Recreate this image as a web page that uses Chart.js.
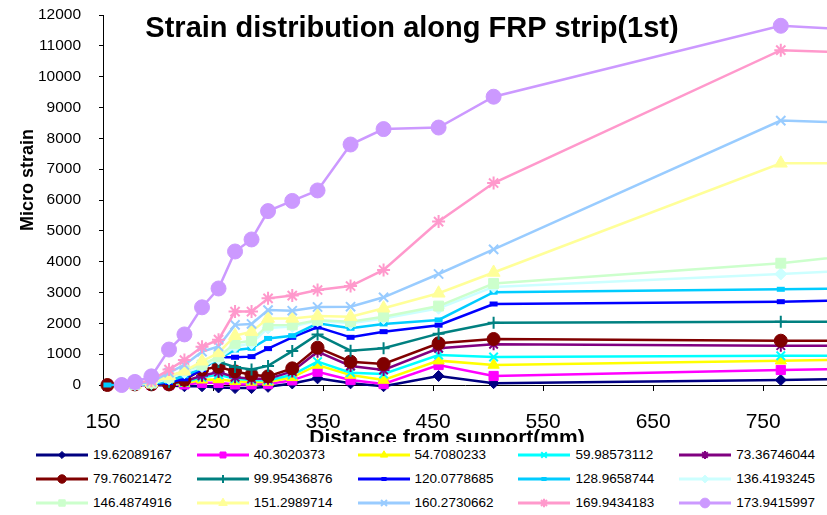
<!DOCTYPE html>
<html>
<head>
<meta charset="utf-8">
<title>Strain distribution along FRP strip(1st)</title>
<script src="https://cdn.jsdelivr.net/npm/chart.js"></script>
<style>
  body { margin: 0; background: #fff; }
  #wrap { position: relative; width: 827px; height: 515px; overflow: hidden; }
  #strainChart { position: absolute; left: 0; top: 0; }
  #legend { position: absolute; left: 0; top: 442px; width: 827px; height: 73px; background: #fff;
            font-family: 'Liberation Sans', Arial, sans-serif; font-size: 13.5px; color: #000; }
  .item { position: absolute; height: 16px; line-height: 16px; white-space: nowrap; }
  .item canvas { position: absolute; left: 0; top: 0; }
  .item span { position: absolute; left: 57px; top: 0; }
</style>
</head>
<body>
<div id="wrap">
  <canvas id="strainChart" width="827" height="515"></canvas>
  <div id="legend"></div>
</div>
<script>
// distance from support (mm) - last point lies past the right edge of the plot
const xDistance = [154, 167, 179, 194, 210, 224, 240, 255, 270, 285, 300, 322, 345, 375, 405, 455, 505, 766, 850];
const xTicks = [150, 250, 350, 450, 550, 650, 750];

// micro strain, one array per load step
const s19 = [0, 0, 0, 0, -20, -40, -40, -80, -100, -100, -60, 50, 216, 54, -40, 292, 60, 162, 205];
const s40 = [0, 0, 0, 0, 0, 20, 70, 70, 20, 20, 30, 150, 432, 162, 32, 649, 292, 487, 530];
const s54 = [0, 0, 0, 10, 20, 60, 170, 180, 120, 100, 100, 250, 649, 324, 162, 790, 650, 789, 832];
const s59 = [0, 0, 0, 10, 30, 90, 250, 330, 200, 160, 150, 330, 757, 400, 357, 973, 910, 951, 951];
const s73 = [0, 0, 0, 20, 40, 120, 300, 420, 250, 200, 200, 440, 1080, 616, 487, 1190, 1320, 1276, 1276];
const s79 = [0, 10, 20, 20, 20, 170, 500, 590, 440, 330, 280, 540, 1210, 757, 681, 1352, 1492, 1437, 1437];
const s99 = [null, 0, 0, 20, 100, 350, 700, 750, 580, 500, 620, 1100, 1640, 1114, 1190, 1665, 2021, 2054, 2054];
const s120 = [null, 0, 0, 20, 80, 200, 500, 900, 900, 920, 1180, 1546, 1880, 1546, 1730, 1940, 2627, 2702, 2767];
const s128 = [0, 0, 0, 30, 120, 300, 550, 850, 1135, 1190, 1510, 1600, 2000, 1840, 1980, 2110, 3010, 3104, 3140];
const s136 = [null, 0, 10, 50, 200, 400, 600, 850, 1250, 1350, 1850, 1900, 2080, 2000, 2160, 2490, 3180, 3600, 3750];
const s146 = [null, 0, 10, 60, 250, 480, 650, 920, 1350, 1440, 1940, 1950, 2100, 2054, 2215, 2560, 3290, 3950, 4265];
const s151 = [null, 0, 20, 80, 300, 450, 770, 1040, 1600, 1730, 2160, 2160, 2240, 2215, 2490, 2975, 3650, 7190, 7190];
const s160 = [null, 0, 30, 100, 400, 650, 1080, 1250, 1950, 1980, 2430, 2410, 2530, 2540, 2845, 3600, 4400, 8575, 8490];
const s169 = [null, 0, 60, 150, 500, 810, 1240, 1470, 2380, 2380, 2810, 2900, 3080, 3210, 3730, 5300, 6550, 10860, 10760];
const s173 = [null, 0, 100, 280, 1150, 1640, 2520, 3130, 4330, 4720, 5640, 5970, 6310, 7800, 8300, 8350, 9350, 11650, 11490];

const seriesLabels = ['19.62089167', '40.3020373', '54.7080233', '59.98573112', '73.36746044',
  '79.76021472', '99.95436876', '120.0778685', '128.9658744', '136.4193245',
  '146.4874916', '151.2989714', '160.2730662', '169.9434183', '173.9415997'];
const seriesValues = [s19, s40, s54, s59, s73, s79, s99, s120, s128, s136, s146, s151, s160, s169, s173];

// excel-ish colours and markers
const styles = [
  { color: '#000080', point: 'rectRot', r: 5.5, bw: 1 },
  { color: '#FF00FF', point: 'rect', r: 6.5, bw: 1 },
  { color: '#FFFF00', point: 'triangle', r: 6.5, bw: 1 },
  { color: '#00FFFF', point: 'crossRot', r: 6, bw: 2 },
  { color: '#800080', point: 'star', r: 6, bw: 2 },
  { color: '#800000', point: 'circle', r: 6.5, bw: 1 },
  { color: '#008080', point: 'cross', r: 6, bw: 2 },
  { color: '#0000FF', point: 'line', r: 4, bw: 5 },
  { color: '#00CCFF', point: 'line', r: 4, bw: 5 },
  { color: '#CCFFFF', point: 'rectRot', r: 6, bw: 1 },
  { color: '#CCFFCC', point: 'rect', r: 7, bw: 1 },
  { color: '#FFFF99', point: 'triangle', r: 7.5, bw: 1 },
  { color: '#99CCFF', point: 'crossRot', r: 6.5, bw: 2 },
  { color: '#FF99CC', point: 'star', r: 6.5, bw: 2 },
  { color: '#CC99FF', point: 'circle', r: 7.5, bw: 1 }
];

Chart.defaults.font.family = "'Liberation Sans', Arial, sans-serif";
Chart.defaults.color = '#000';

const datasets = seriesValues.map((vals, i) => ({
  label: seriesLabels[i],
  data: xDistance.map((x, j) => ({ x: x, y: vals[j] })),
  borderColor: styles[i].color,
  backgroundColor: styles[i].color,
  borderWidth: 2.5,
  pointStyle: styles[i].point,
  pointRadius: styles[i].r,
  pointBorderWidth: styles[i].bw,
  pointBackgroundColor: styles[i].color,
  pointBorderColor: styles[i].color,
  tension: 0,
  clip: false,
  order: seriesValues.length - i  // later series on top, like excel
}));

// titles drawn at the spots they sit in the original
const titlesPlugin = {
  id: 'titles',
  afterDraw(chart) {
    const ctx = chart.ctx;
    ctx.save();
    ctx.fillStyle = '#000';
    ctx.textAlign = 'center';
    ctx.textBaseline = 'alphabetic';
    ctx.font = "bold 29px 'Liberation Sans', Arial, sans-serif";
    ctx.fillText('Strain distribution along FRP strip(1st)', 412, 37);
    ctx.font = "bold 21px 'Liberation Sans', Arial, sans-serif";
    ctx.fillText('Distance from support(mm)', 447, 444);
    ctx.translate(28, 180);
    ctx.rotate(-Math.PI / 2);
    ctx.textBaseline = 'middle';
    ctx.font = "bold 18px 'Liberation Sans', Arial, sans-serif";
    ctx.fillText('Micro strain', 0, 0);
    ctx.restore();
  }
};

const chart = new Chart(document.getElementById('strainChart'), {
  type: 'line',
  data: { datasets: datasets },
  plugins: [titlesPlugin],
  options: {
    responsive: false,
    animation: false,
    events: [],
    layout: { autoPadding: false, padding: { top: 15, right: 0, bottom: 0, left: 0 } },
    plugins: {
      legend: { display: false },
      tooltip: { enabled: false },
      title: { display: false }
    },
    scales: {
      x: {
        type: 'linear',
        min: 150,
        max: 808,
        afterBuildTicks: (axis) => { axis.ticks = xTicks.map(v => ({ value: v })); },
        afterFit: (axis) => { axis.height = 130; axis.paddingLeft = 0; axis.paddingRight = 0; },
        ticks: { font: { size: 21 }, color: '#000', padding: 19, maxRotation: 0, autoSkip: false,
                 callback: (v) => String(v) },
        grid: { drawOnChartArea: false, tickLength: 6, color: '#000', tickColor: '#000' },
        border: { color: '#000', width: 1 }
      },
      y: {
        min: 0,
        max: 12000,
        // fixed width, and no extra room reserved above the 12000 label
        afterFit: (axis) => { axis.width = 103; axis.paddingTop = 0; axis.paddingBottom = 0; },
        ticks: { stepSize: 1000, font: { size: 15.5 }, color: '#000', padding: 18,
                 callback: (v) => String(v) },
        grid: { drawOnChartArea: false, tickLength: 4, color: '#000', tickColor: '#000' },
        border: { color: '#000', width: 1 }
      }
    }
  }
});

// legend in five fixed columns
const legendBox = document.getElementById('legend');
const rowTops = [4.5, 28.7, 52.9];
seriesLabels.forEach((label, i) => {
  const col = i % 5;
  const row = Math.floor(i / 5);
  const item = document.createElement('div');
  item.className = 'item';
  item.style.left = (36 + 160.8 * col) + 'px';
  item.style.top = rowTops[row] + 'px';
  const c = document.createElement('canvas');
  c.width = 52;
  c.height = 16;
  const g = c.getContext('2d');
  g.strokeStyle = styles[i].color;
  g.fillStyle = styles[i].color;
  g.lineWidth = 3;
  g.beginPath();
  g.moveTo(0, 8);
  g.lineTo(52, 8);
  g.stroke();
  if (Chart.helpers && Chart.helpers.drawPoint) {
    // legend markers are a bit smaller than the plotted ones
    const bw = styles[i].point === 'line' ? 4 : styles[i].bw;
    g.lineWidth = bw;
    Chart.helpers.drawPoint(g, { pointStyle: styles[i].point, radius: styles[i].r * 0.65, borderWidth: bw, rotation: 0 }, 26, 8);
  }
  const span = document.createElement('span');
  span.textContent = label;
  item.appendChild(c);
  item.appendChild(span);
  legendBox.appendChild(item);
});
</script>
</body>
</html>
